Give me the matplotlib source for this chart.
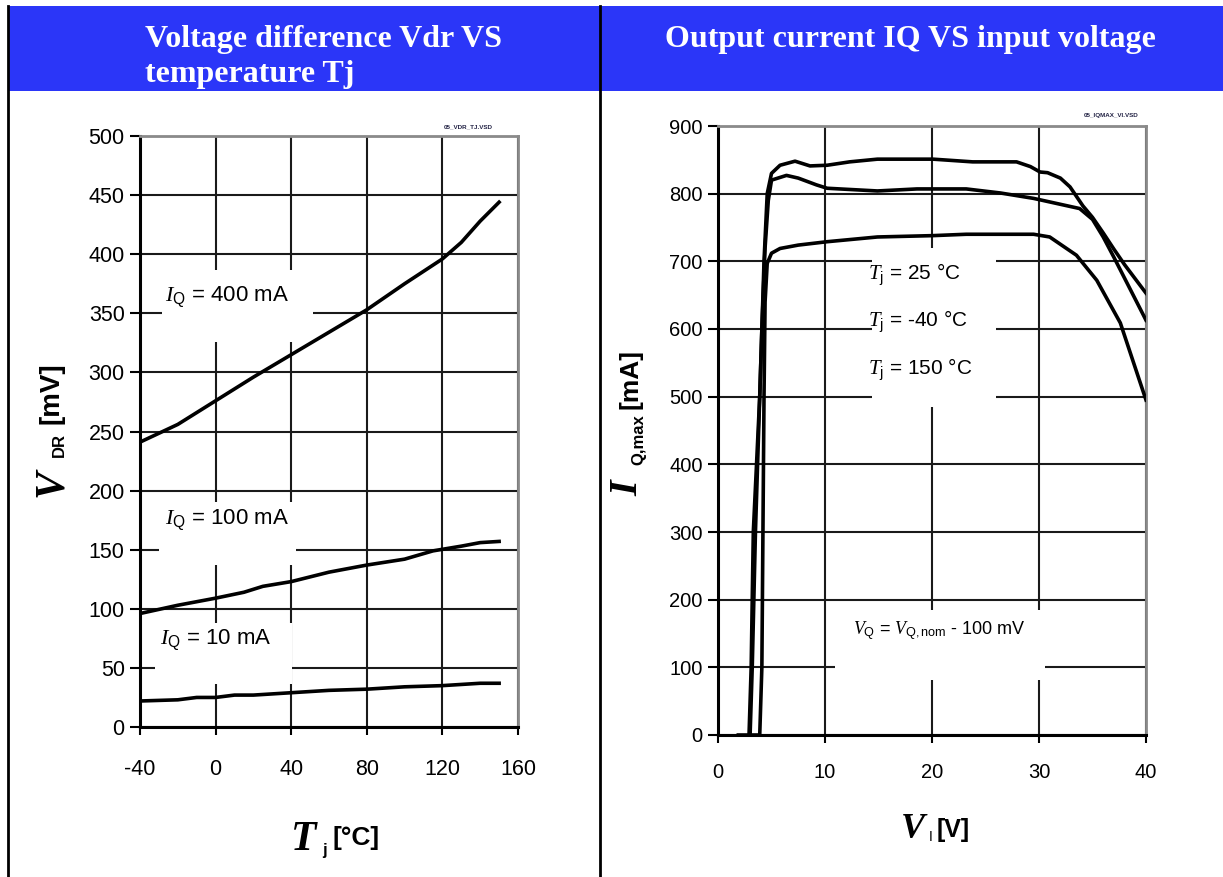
import matplotlib
matplotlib.use('Agg')
import matplotlib.pyplot as plt
from matplotlib import font_manager
from matplotlib.patches import Rectangle
from matplotlib.lines import Line2D

# ---------------- data ----------------
# Left chart: V_DR vs Tj
tj_400 = [-40, -20, 0, 20, 40, 60, 80, 100, 120, 130, 140, 150]
vdr_400 = [241, 256, 276, 296, 315, 334, 353, 375, 396, 410, 428, 444]
tj_100 = [-40, -20, 0, 15, 25, 40, 60, 80, 100, 115, 130, 140, 150]
vdr_100 = [96, 103, 109, 114, 119, 123, 131, 137, 142, 149, 153, 156, 157]
tj_10 = [-40, -20, -10, 0, 10, 20, 40, 60, 80, 100, 120, 140, 150]
vdr_10 = [22, 23, 25, 25, 27, 27, 29, 31, 32, 34, 35, 37, 37]
left_xticks = [-40, 0, 40, 80, 120, 160]
left_yticks = [0, 50, 100, 150, 200, 250, 300, 350, 400, 450, 500]
left_labels = ["400", "100", "10"]

# Right chart: IQ,max vs VI
vi_m40 = [1.9, 2.9, 3.1, 3.3, 3.6, 3.9, 4.1, 4.3, 4.6, 5.0, 5.8, 7.2, 8.6, 10.2,
          12.3, 14.9, 20.1, 23.8, 27.9, 29.2, 30.1, 30.8, 32.0, 32.9, 34.1, 35.0,
          36.0, 37.0, 38.0, 39.0, 40.0]
iq_m40 = [0, 0, 100, 300, 400, 500, 600, 700, 800, 830, 842, 848, 841, 842,
          847, 851, 851, 847, 847, 840, 832, 831, 823, 810, 782, 765,
          742, 718, 695, 674, 653]
vi_25 = [3.0, 3.2, 3.5, 3.8, 4.1, 4.4, 4.7, 5.0, 6.4, 7.5, 9.2, 10.2, 14.9,
         18.6, 23.2, 26.4, 29.5, 33.8, 35.0, 36.0, 37.0, 38.0, 39.0, 40.0]
iq_25 = [0, 100, 300, 450, 600, 720, 790, 820, 827, 823, 813, 808, 804,
         807, 807, 801, 793, 778, 762, 736, 706, 675, 644, 613]
vi_150 = [3.0, 3.9, 4.1, 4.2, 4.3, 4.4, 4.6, 5.0, 5.8, 7.5, 10.2, 14.9, 20.1,
          23.2, 29.5, 31.0, 33.5, 35.4, 37.6, 40.0]
iq_150 = [0, 0, 100, 300, 500, 640, 697, 712, 719, 724, 729, 736, 738,
          740, 740, 736, 709, 672, 609, 495]
right_xticks = [0, 10, 20, 30, 40]
right_yticks = [0, 100, 200, 300, 400, 500, 600, 700, 800, 900]
tj_labels = ["25", "-40", "150"]

# ---------------- fonts ----------------
names = {f.name for f in font_manager.fontManager.ttflist}
SANS = 'Liberation Sans'
NARROW = 'Liberation Sans Narrow' if 'Liberation Sans Narrow' in names else 'Liberation Sans'
SERIF = 'Liberation Serif'
plt.rcParams['font.family'] = [SANS, 'DejaVu Sans']
plt.rcParams['axes.unicode_minus'] = False
plt.rcParams['mathtext.fontset'] = 'custom'
plt.rcParams['mathtext.rm'] = SANS
plt.rcParams['mathtext.it'] = SERIF + ':italic'
plt.rcParams['mathtext.bf'] = SANS + ':bold'

W, H = 1223, 877
fig = plt.figure(figsize=(W / 100, H / 100), dpi=100)


def fx(x):
    return x / W


def fy(y):
    return 1 - y / H


# ---------------- table frame / header ----------------
fig.patches.append(Rectangle((fx(8), fy(91)), fx(W - 8), (91 - 6) / H,
                             transform=fig.transFigure, facecolor='#2b36f8',
                             edgecolor='none', zorder=0))
for xl in (8, 600):
    fig.lines.append(Line2D([fx(xl), fx(xl)], [fy(6), fy(H)], transform=fig.transFigure,
                            color='black', lw=2, zorder=1))

fig.text(fx(145), fy(57), "Voltage difference Vdr VS\ntemperature Tj", color='white',
         family=SERIF, weight='bold', fontsize=23, ha='left', va='center', linespacing=1.26)
fig.text(fx(665), fy(40), "Output current IQ VS input voltage", color='white',
         family=SERIF, weight='bold', fontsize=23, ha='left', va='center')

GRID_C = '#1a1a1a'


def style_axes(ax, fs, xpad):
    ax.grid(True, color=GRID_C, lw=1.5, zorder=1)
    ax.set_axisbelow(True)
    for s in ('top', 'right'):
        ax.spines[s].set_color('#8a8a8a')
        ax.spines[s].set_linewidth(2)
    for s in ('left', 'bottom'):
        ax.spines[s].set_color('black')
        ax.spines[s].set_linewidth(2.2)
    ax.tick_params(axis='y', direction='out', length=7, width=1.5, pad=4, labelsize=fs)
    ax.tick_params(axis='x', direction='out', length=6, width=1.5, pad=xpad, labelsize=fs)


# ---------------- left chart ----------------
axL = fig.add_axes([fx(140), fy(727), fx(518 - 140), (727 - 136) / H])
axL.plot(tj_400, vdr_400, color='black', lw=2.6, zorder=4)
axL.plot(tj_100, vdr_100, color='black', lw=2.6, zorder=4)
axL.plot(tj_10, vdr_10, color='black', lw=2.6, zorder=4)
axL.set_xlim(-40, 160)
axL.set_ylim(0, 500)
axL.set_xticks(left_xticks)
axL.set_yticks(left_yticks)
style_axes(axL, 15.5, 17)

# white label backgrounds (data coords)
for (x0, x1, y0, y1) in [(-28.4, 51.5, 326, 387), (-30, 42.5, 137, 190), (-32, 40.4, 36, 88)]:
    axL.add_patch(Rectangle((x0, y0), x1 - x0, y1 - y0, facecolor='white',
                            edgecolor='none', zorder=2))
for lab, (tx, ty) in zip(left_labels, [(-26.8, 364), (-26.8, 175), (-29.4, 74)]):
    axL.text(tx, ty, r'$I_{\mathrm{Q}}$' + f' = {lab} mA', fontsize=16, ha='left',
             va='center', zorder=5)

fig.text(fx(468), fy(127), "05_VDR_TJ.VSD", fontsize=4.5, weight='bold', ha='center',
         va='center', color='#222244')

# y label: V_DR [mV]
fig.text(fx(52), fy(483), "V", family=SERIF, style='italic', weight='bold', fontsize=30,
         rotation=90, ha='center', va='center')
fig.text(fx(59), fy(445), "DR", family=SANS, weight='bold', fontsize=12,
         rotation=90, ha='center', va='center')
fig.text(fx(52), fy(393), "[mV]", family=NARROW, weight='bold', fontsize=20,
         rotation=90, ha='center', va='center')
# x label: T_j [°C]
fig.text(fx(304), fy(840), "T", family=SERIF, style='italic', weight='bold', fontsize=30,
         ha='center', va='center')
fig.text(fx(324), fy(850), "j", family=SANS, weight='bold', fontsize=12,
         ha='center', va='center')
fig.text(fx(332), fy(838), "[°C]", family=NARROW, weight='bold', fontsize=19,
         ha='left', va='center')

# ---------------- right chart ----------------
axR = fig.add_axes([fx(718), fy(735), fx(1146 - 718), (735 - 126) / H])
axR.plot(vi_m40, iq_m40, color='black', lw=2.6, zorder=4)
axR.plot(vi_25, iq_25, color='black', lw=2.6, zorder=4)
axR.plot(vi_150, iq_150, color='black', lw=2.6, zorder=4)
axR.set_xlim(0, 40)
axR.set_ylim(0, 900)
axR.set_xticks(right_xticks)
axR.set_yticks(right_yticks)
style_axes(axR, 14.5, 14)

for (x0, x1, y0, y1) in [(14.4, 26.0, 485, 720), (10.9, 30.6, 81, 185)]:
    axR.add_patch(Rectangle((x0, y0), x1 - x0, y1 - y0, facecolor='white',
                            edgecolor='none', zorder=2))
for lab, ty in zip(tj_labels, [680, 610, 539]):
    axR.text(14.0, ty, r'$T_{\mathrm{j}}$' + f' = {lab} °C', fontsize=15, ha='left',
             va='center', zorder=5)
axR.text(12.6, 155, r'$V_{\mathrm{Q}}$ = $V_{\mathrm{Q,nom}}$ - 100 mV', fontsize=13,
         ha='left', va='center', zorder=5)

fig.text(fx(1111), fy(116), "05_IQMAX_VI.VSD", fontsize=4.5, weight='bold', ha='center',
         va='center', color='#222244')

# y label: I_Q,max [mA]
fig.text(fx(628), fy(488), "I", family=SERIF, style='italic', weight='bold', fontsize=29,
         rotation=90, ha='center', va='center')
fig.text(fx(639), fy(440), "Q,max", family=SANS, weight='bold', fontsize=12,
         rotation=90, ha='center', va='center')
fig.text(fx(630), fy(379), "[mA]", family=NARROW, weight='bold', fontsize=19,
         rotation=90, ha='center', va='center')
# x label: V_I [V]
fig.text(fx(913), fy(830), "V", family=SERIF, style='italic', weight='bold', fontsize=26,
         ha='center', va='center')
fig.text(fx(931), fy(837), "I", family=SANS, fontsize=10, ha='center', va='center')
fig.text(fx(937), fy(830), "[V]", family=NARROW, weight='bold', fontsize=18,
         ha='left', va='center')

fig.savefig('out.png', dpi=100, facecolor='white')
